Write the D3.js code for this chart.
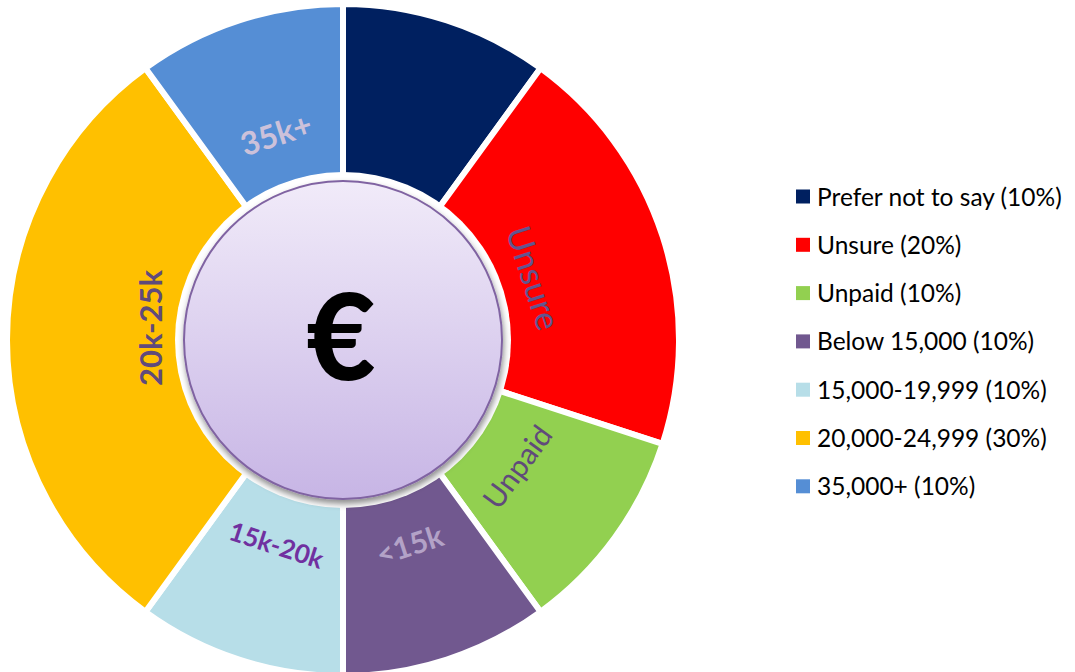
<!DOCTYPE html>
<html lang="en">
  <head>
    <meta charset="UTF-8" />
    <title>Salary donut</title>
    <script src="https://d3js.org/d3.v7.min.js"></script>
    <style>
      body { margin: 0; background: #fff; }
      svg { display: block; font-family: 'Lato', sans-serif; }
    </style>
  </head>
  <body>
    <svg width="1075" height="672"></svg>
    <script>
      // data
      var categories = ['Prefer not to say', 'Unsure', 'Unpaid', 'Below 15,000', '15,000-19,999', '20,000-24,999', '35,000+']
      var shares = [10, 20, 10, 10, 10, 30, 10]
      var sliceLabels = ['', 'Unsure', 'Unpaid', '<15k', '15k-20k', '20k-25k', '35k+']
      var colors = ['#002060', '#ff0000', '#92d050', '#71588f', '#b7dee8', '#ffc000', '#558ed5']

      // label styling (not data)
      var labelColor = { 'Unsure': '#62558f', 'Unpaid': '#604a7b', '<15k': '#b3a2c7', '15k-20k': '#7030a0', '20k-25k': '#604a7b', '35k+': '#ccc1da' }
      var labelWeight = { 'Unsure': 400, 'Unpaid': 400 }
      var labelSize = { 'Unsure': 34, 'Unpaid': 30, '<15k': 30, '15k-20k': 26, '20k-25k': 31, '35k+': 32 }
      var labelRadius = { 'Unsure': 200, '20k-25k': 192 }
      var labelShift = { '20k-25k': 12 }

      var svg = d3.select('svg')
      var cx = 343, cy = 340
      var g = svg.append('g').attr('transform', `translate(${cx}, ${cy})`)

      var defs = svg.append('defs')
      var grad = defs.append('linearGradient').attr('id', 'centerGrad')
        .attr('x1', 0).attr('y1', 0).attr('x2', 0).attr('y2', 1)
      grad.append('stop').attr('offset', '0%').attr('stop-color', '#f1ebf9')
      grad.append('stop').attr('offset', '100%').attr('stop-color', '#c7b5e5')
      var shadow = defs.append('filter').attr('id', 'shadow')
        .attr('x', '-20%').attr('y', '-20%').attr('width', '140%').attr('height', '140%')
      shadow.append('feDropShadow').attr('dx', 1).attr('dy', 4).attr('stdDeviation', 3)
        .attr('flood-color', '#000').attr('flood-opacity', 0.45)

      var pie = d3.pie().sort(null).value(d => d)
      var arcs = pie(shares)
      var arc = d3.arc().innerRadius(164).outerRadius(336)

      g.selectAll('path.slice')
        .data(arcs)
        .enter()
        .append('path')
        .attr('class', 'slice')
        .attr('d', arc)
        .attr('fill', (d, i) => colors[i])
        .attr('stroke', '#fff')
        .attr('stroke-width', 6)

      // slice labels, set along the tangent
      var labelData = arcs.map((a, i) => ({ arc: a, text: sliceLabels[i] })).filter(d => d.text !== '')
      g.selectAll('text.lbl')
        .data(labelData)
        .enter()
        .append('text')
        .attr('class', 'lbl')
        .attr('transform', function(d) {
          var mid = (d.arc.startAngle + d.arc.endAngle) / 2
          var r = labelRadius[d.text] || 216
          var deg = mid * 180 / Math.PI
          var rot = deg
          if (deg > 90 && deg < 270) rot = deg - 180
          else if (deg >= 270) rot = deg - 360
          return `translate(${Math.sin(mid) * r}, ${-Math.cos(mid) * r}) rotate(${rot})`
        })
        .attr('x', d => labelShift[d.text] || 0)
        .attr('text-anchor', 'middle')
        .attr('dy', '0.35em')
        .attr('font-size', d => labelSize[d.text])
        .attr('font-weight', d => labelWeight[d.text] || 700)
        .attr('fill', d => labelColor[d.text])
        .text(d => d.text)

      // centre disc
      g.append('circle').attr('r', 168).attr('fill', '#fff')
      g.append('circle')
        .attr('r', 159)
        .attr('fill', 'url(#centerGrad)')
        .attr('stroke', '#8064a2')
        .attr('stroke-width', 2)
        .attr('filter', 'url(#shadow)')
      g.append('text')
        .attr('text-anchor', 'middle')
        .attr('x', -2)
        .attr('y', -3)
        .attr('dy', '0.36em')
        .attr('font-size', 120)
        .attr('font-weight', 900)
        .attr('fill', '#000')
        .text('€')

      // legend
      var legend = svg.append('g').attr('transform', 'translate(796, 197)')
      var rows = legend.selectAll('g')
        .data(categories)
        .enter()
        .append('g')
        .attr('transform', (d, i) => `translate(0, ${i * 48.3})`)
      rows.append('rect')
        .attr('x', 0).attr('y', -7.5)
        .attr('width', 14).attr('height', 14)
        .attr('fill', (d, i) => colors[i])
      rows.append('text')
        .attr('x', 21)
        .attr('dy', '0.35em')
        .attr('font-size', 24.5)
        .attr('fill', '#000')
        .text((d, i) => `${d} (${shares[i]}%)`)
    </script>
  </body>
</html>
